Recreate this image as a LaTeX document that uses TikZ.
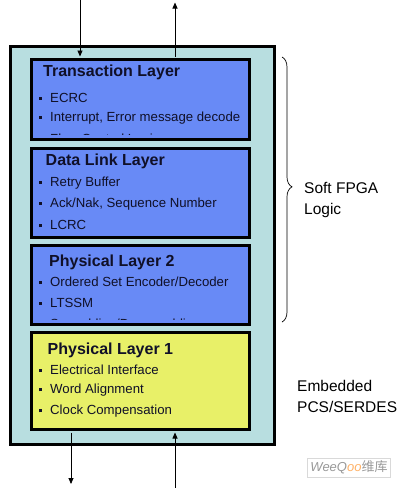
\documentclass[tikz,border=0pt]{standalone}
\usepackage{fontspec}
\setmainfont{Liberation Sans}
\newfontfamily\cjkfont{Noto Sans CJK SC}
\usetikzlibrary{arrows.meta,decorations.pathreplacing}
\definecolor{outerfill}{RGB}{184,222,224}
\definecolor{bluefill}{RGB}{104,138,246}
\definecolor{yellowfill}{RGB}{232,240,104}
\definecolor{txt}{RGB}{16,16,40}
\tikzset{
  layerbox/.style={draw=black, line width=3pt, anchor=north west, inner sep=0pt},
  ttl/.style={anchor=west, inner sep=0pt, font=\fontsize{16}{16}\selectfont\bfseries, text=txt},
  item/.style={anchor=west, inner sep=0pt, font=\fontsize{13.2}{13}\selectfont, text=txt},
  side/.style={anchor=west, inner sep=0pt, align=left, font=\fontsize{15.5}{21}\selectfont},
  arr/.style={line width=0.8pt, -{Triangle[length=6pt,width=5pt]}}
}
\newcommand{\bul}{\raisebox{2.5pt}{\rule{3pt}{3pt}}\hspace{8pt}}
\begin{document}
\begin{tikzpicture}[x=1pt,y=-1pt]
\useasboundingbox (0,0) rectangle (404,488);
\fill[white] (0,0) rectangle (404,488);
% outer box
\node[draw=black, line width=3pt, fill=outerfill, anchor=north west, inner sep=0pt,
      minimum width=264pt, minimum height=398pt] (outer) at (8.5,44.5) {};
% layer boxes
\node[layerbox, fill=bluefill, minimum width=218pt, minimum height=80pt] (tl) at (30,58) {};
\node[layerbox, fill=bluefill, minimum width=218pt, minimum height=89pt] (dl) at (30,147) {};
\node[layerbox, fill=bluefill, minimum width=218pt, minimum height=79pt] (p2) at (30,244) {};
\node[layerbox, fill=yellowfill, minimum width=218pt, minimum height=97pt] (p1) at (30,331) {};
% Transaction layer
\node[ttl] (tlt) at (43,72) {Transaction Layer};
\node[item] (tl1) at (39,97.5) {\bul ECRC};
\node[item] (tl2) at (39,118) {\bul Interrupt, Error message decode};
\begin{scope}
\clip (31.5,100) rectangle (246.5,134.8);
\node[item] (tl3) at (39,140.5) {\bul Flow Control Logic};
\end{scope}
% Data link layer
\node[ttl] (dlt) at (45.5,161) {Data Link Layer};
\node[item] (dl1) at (39,183) {\bul Retry Buffer};
\node[item] (dl2) at (39,204) {\bul Ack/Nak, Sequence Number};
\node[item] (dl3) at (39,225) {\bul LCRC};
% Physical layer 2
\node[ttl] (p2t) at (49,262) {Physical Layer 2};
\node[item] (p21) at (39,282) {\bul Ordered Set Encoder/Decoder};
\node[item] (p22) at (39,302.5) {\bul LTSSM};
\begin{scope}
\clip (31.5,290) rectangle (246.5,319.8);
\node[item] (p23) at (39,325.5) {\bul Scrambling/Descrambling};
\end{scope}
% Physical layer 1
\node[ttl] (p1t) at (47.5,350) {Physical Layer 1};
\node[item] (p11) at (39,369.5) {\bul Electrical Interface};
\node[item] (p12) at (39,390.5) {\bul Word Alignment};
\node[item] (p13) at (39,411.5) {\bul Clock Compensation};
% arrows
\coordinate (inA) at (80,0);
\coordinate (outA) at (175,2.5);
\coordinate (outB) at (71,484);
\coordinate (inB) at (175,488);
\draw[arr, shorten >=1.5pt] (inA) -- (inA |- tl.north);
\draw[arr, shorten <=1.5pt] (outA |- tl.north) -- (outA);
\draw[arr, shorten <=1.5pt] (outB |- p1.south) -- (outB);
\draw[arr, shorten >=1.5pt] (inB) -- (inB |- p1.south);
% brace
\coordinate (bt) at (282,57);
\coordinate (bb) at (282,322);
\draw[line width=0.7pt, decorate, decoration={brace, amplitude=10pt, aspect=0.49}] (bt) -- (bb);
\node[side] (soft) at (304,200) {Soft FPGA\\Logic};
\node[side] (emb) at (297,396) {Embedded\\PCS/SERDES};
% watermark
\node[draw=black!15, line width=0.6pt, inner xsep=3pt, inner ysep=3pt, anchor=center,
      font=\fontsize{13}{13}\selectfont, text=black!40] (wm) at (349,467.5)
      {\itshape WeeQ\textcolor{orange!60}{oo}\cjkfont\upshape 维库};
\end{tikzpicture}
\end{document}
